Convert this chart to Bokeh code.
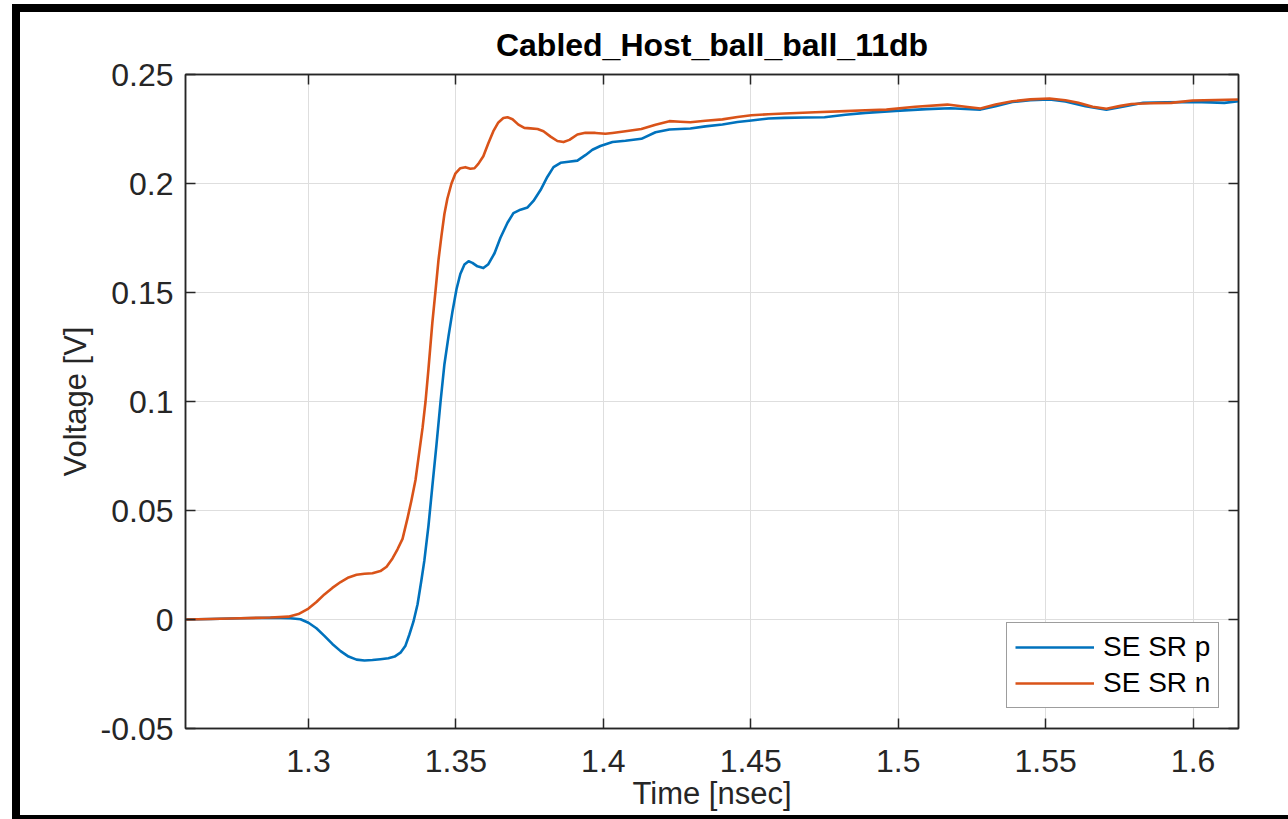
from bokeh.plotting import figure
from bokeh.models import (Range1d, LinearAxis, FixedTicker, CustomJSTickFormatter,
                          Legend, LegendItem, InlineStyleSheet)
from bokeh.embed import file_html
from bokeh.resources import INLINE

# ---------------- data ----------------
title_text = "Cabled_Host_ball_ball_11db"
x_label = "Time [nsec]"
y_label = "Voltage [V]"
series_names = ["SE SR p", "SE SR n"]

x_ticks = [1.3, 1.35, 1.4, 1.45, 1.5, 1.55, 1.6]
y_ticks = [-0.05, 0.0, 0.05, 0.1, 0.15, 0.2, 0.25]
x_limits = [1.2583, 1.6154]
y_limits = [-0.05, 0.25]

t_p = [1.2583, 1.2668, 1.2769, 1.2871, 1.2939, 1.2973, 1.3000, 1.3027, 1.3054, 1.3081,
       1.3109, 1.3136, 1.3163, 1.3190, 1.3217, 1.3244, 1.3271, 1.3292, 1.3312, 1.3329,
       1.3342, 1.3356, 1.3370, 1.3383, 1.3393, 1.3407, 1.3420, 1.3434, 1.3448, 1.3461,
       1.3475, 1.3488, 1.3502, 1.3515, 1.3529, 1.3543, 1.3556, 1.3573, 1.3593, 1.3610,
       1.3631, 1.3651, 1.3675, 1.3695, 1.3719, 1.3743, 1.3763, 1.3787, 1.3810, 1.3831,
       1.3855, 1.3882, 1.3912, 1.3939, 1.3963, 1.3990, 1.4031, 1.4075, 1.4129, 1.4177,
       1.4224, 1.4295, 1.4346, 1.4404, 1.4455, 1.4502, 1.4560, 1.4614, 1.4685, 1.4750,
       1.4821, 1.4889, 1.4991, 1.5096, 1.5177, 1.5228, 1.5279, 1.5330, 1.5387, 1.5448,
       1.5513, 1.5567, 1.5635, 1.5706, 1.5770, 1.5831, 1.5906, 1.5998, 1.6059, 1.6106,
       1.6154]
v_p = [0.0000, 0.0002, 0.0006, 0.0008, 0.0006, 0.0001, -0.0015, -0.0040, -0.0075, -0.0112,
       -0.0145, -0.0170, -0.0184, -0.0188, -0.0186, -0.0182, -0.0178, -0.0170, -0.0152, -0.0120,
       -0.0070, -0.0010, 0.0070, 0.0180, 0.0270, 0.0430, 0.0610, 0.0800, 0.1000, 0.1170,
       0.1300, 0.1410, 0.1515, 0.1585, 0.1628, 0.1643, 0.1636, 0.1620, 0.1612, 0.1630,
       0.1680, 0.1751, 0.1820, 0.1864, 0.1880, 0.1890, 0.1920, 0.1970, 0.2030, 0.2075,
       0.2095, 0.2100, 0.2105, 0.2130, 0.2155, 0.2172, 0.2190, 0.2196, 0.2205, 0.2235,
       0.2248, 0.2252, 0.2262, 0.2271, 0.2282, 0.2289, 0.2298, 0.2301, 0.2303, 0.2304,
       0.2315, 0.2324, 0.2333, 0.2341, 0.2345, 0.2342, 0.2339, 0.2355, 0.2374, 0.2382,
       0.2385, 0.2376, 0.2355, 0.2339, 0.2355, 0.2370, 0.2372, 0.2374, 0.2372, 0.2370,
       0.2377]

t_n = [1.2583, 1.2668, 1.2769, 1.2871, 1.2932, 1.2966, 1.3000, 1.3027, 1.3054, 1.3081,
       1.3109, 1.3136, 1.3163, 1.3190, 1.3217, 1.3244, 1.3265, 1.3285, 1.3302, 1.3319,
       1.3336, 1.3349, 1.3363, 1.3376, 1.3387, 1.3397, 1.3407, 1.3420, 1.3431, 1.3441,
       1.3451, 1.3461, 1.3471, 1.3485, 1.3498, 1.3515, 1.3532, 1.3549, 1.3563, 1.3576,
       1.3593, 1.3610, 1.3627, 1.3644, 1.3661, 1.3675, 1.3692, 1.3712, 1.3732, 1.3753,
       1.3777, 1.3797, 1.3821, 1.3844, 1.3865, 1.3885, 1.3912, 1.3939, 1.3973, 1.4007,
       1.4031, 1.4075, 1.4129, 1.4177, 1.4224, 1.4261, 1.4295, 1.4346, 1.4404, 1.4455,
       1.4502, 1.4560, 1.4614, 1.4719, 1.4821, 1.4889, 1.4960, 1.5058, 1.5167, 1.5228,
       1.5279, 1.5330, 1.5387, 1.5448, 1.5513, 1.5567, 1.5611, 1.5659, 1.5706, 1.5754,
       1.5791, 1.5855, 1.5926, 1.5998, 1.6076, 1.6154]
v_n = [0.0000, 0.0002, 0.0006, 0.0009, 0.0013, 0.0025, 0.0050, 0.0080, 0.0115, 0.0145,
       0.0172, 0.0193, 0.0205, 0.0210, 0.0212, 0.0222, 0.0242, 0.0280, 0.0322, 0.0370,
       0.0465, 0.0545, 0.0640, 0.0770, 0.0880, 0.1000, 0.1150, 0.1360, 0.1510, 0.1650,
       0.1760, 0.1860, 0.1930, 0.2000, 0.2045, 0.2070, 0.2075, 0.2068, 0.2070, 0.2090,
       0.2125, 0.2185, 0.2240, 0.2280, 0.2300, 0.2304, 0.2295, 0.2270, 0.2255, 0.2253,
       0.2250, 0.2240, 0.2215, 0.2195, 0.2190, 0.2200, 0.2225, 0.2233, 0.2232, 0.2228,
       0.2232, 0.2240, 0.2250, 0.2270, 0.2286, 0.2283, 0.2281, 0.2288, 0.2294, 0.2305,
       0.2313, 0.2318, 0.2321, 0.2327, 0.2332, 0.2336, 0.2339, 0.2352, 0.2362, 0.2352,
       0.2344, 0.2362, 0.2377, 0.2386, 0.2390, 0.2382, 0.2370, 0.2352, 0.2343, 0.2356,
       0.2365, 0.2368, 0.2370, 0.2381, 0.2383, 0.2385]

# ---------------- styling ----------------
FONT = "Liberation Sans"
DARK = "#262626"
BLUE = "#0072BD"
ORANGE = "#D95319"

p = figure(width=1268, height=803, output_backend="svg", toolbar_location=None,
           x_range=Range1d(*x_limits), y_range=Range1d(*y_limits),
           min_border_left=165, min_border_right=50, min_border_top=61, min_border_bottom=87,
           background_fill_color="white", border_fill_color="white")

# black window frame around the figure (drawn as CSS shadows so it does not change the layout)
p.styles = {"margin-left": "20px", "margin-top": "12px",
            "box-shadow": ("-8px -8px 0 0 black, -8px 4px 0 0 black, "
                           "0 -8px 0 0 black, 0 4px 0 0 black")}
# soft drop shadow under the texts, as in the screenshot
p.stylesheets = [InlineStyleSheet(css="svg text { filter: drop-shadow(2px 3px 2px rgba(0,0,0,0.3)); }")]

p.title.text = title_text
p.title.align = "center"
p.title.text_font = FONT
p.title.text_font_style = "bold"
p.title.text_font_size = "32px"
p.title.text_color = "black"
p.title.standoff = 24

fmt = CustomJSTickFormatter(code="return String(Math.round(tick*1000)/1000);")
xt = FixedTicker(ticks=x_ticks)
yt = FixedTicker(ticks=y_ticks)

def style_axis(ax, ticker):
    ax.ticker = ticker
    ax.formatter = fmt
    ax.axis_line_color = DARK
    ax.axis_line_width = 1.5
    ax.major_tick_line_color = DARK
    ax.major_tick_line_width = 1.5
    ax.major_tick_in = 10
    ax.major_tick_out = 0
    ax.minor_tick_line_color = None
    ax.major_label_text_font = FONT
    ax.major_label_text_font_size = "32px"
    ax.major_label_text_color = DARK

xa = p.xaxis[0]
style_axis(xa, xt)
xa.major_label_standoff = 21
xa.axis_label = x_label
xa.axis_label_text_font = FONT
xa.axis_label_text_font_size = "31px"
xa.axis_label_text_font_style = "normal"
xa.axis_label_text_color = DARK
xa.axis_label_standoff = 1

ya = p.yaxis[0]
style_axis(ya, yt)
ya.major_label_standoff = 12
ya.axis_label = y_label
ya.axis_label_text_font = FONT
ya.axis_label_text_font_size = "31px"
ya.axis_label_text_font_style = "normal"
ya.axis_label_text_color = DARK
ya.axis_label_standoff = 5

for loc, tk in (("above", xt), ("right", yt)):
    ax = LinearAxis()
    style_axis(ax, tk)
    ax.major_label_text_font_size = "1px"
    ax.major_label_text_color = None
    ax.major_label_standoff = 0
    p.add_layout(ax, loc)

p.xgrid.ticker = xt
p.ygrid.ticker = yt
p.grid.grid_line_color = "#dedede"
p.grid.grid_line_width = 1
p.outline_line_color = DARK
p.outline_line_width = 1.5

r_p = p.line(t_p, v_p, line_color=BLUE, line_width=2.6, line_join="round")
r_n = p.line(t_n, v_n, line_color=ORANGE, line_width=2.6, line_join="round")

leg = Legend(items=[LegendItem(label=series_names[0], renderers=[r_p]),
                    LegendItem(label=series_names[1], renderers=[r_n])],
             location=(821, 20), label_text_font=FONT, label_text_font_size="28px",
             label_text_color="black", glyph_width=79, glyph_height=32, label_height=32,
             label_standoff=9, padding=8, spacing=4, margin=0,
             border_line_color="#3c3c3c", border_line_width=1,
             background_fill_color="white", background_fill_alpha=1.0)
p.add_layout(leg, "center")

open("out.html", "w").write(file_html(p, INLINE))
